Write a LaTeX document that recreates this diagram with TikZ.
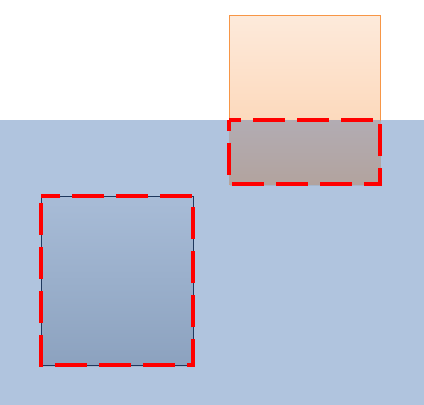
\documentclass[tikz,border=0pt]{standalone}
\usetikzlibrary{shadows}
\begin{document}
\begin{tikzpicture}[x=1pt,y=-1pt]
	% size of each box
	\def\bw{151pt}
	\def\bh{169pt}
	% colours
	\definecolor{bgblue}{RGB}{176,196,222}
	\definecolor{peachtop}{RGB}{253,234,219}
	\definecolor{peachbot}{RGB}{252,207,170}
	\definecolor{peachline}{RGB}{247,150,70}
	\definecolor{mixtop}{RGB}{178,172,179}
	\definecolor{mixbot}{RGB}{178,163,158}
	\definecolor{steeltop}{RGB}{168,188,215}
	\definecolor{steelbot}{RGB}{140,162,191}
	\definecolor{navy}{RGB}{31,56,93}
	% node style definition
	\tikzstyle{box} = [rectangle, inner sep=0pt, outer sep=0pt, anchor=north west];
	\tikzstyle{frame} = [draw=red, line width=4pt, dash pattern=on 32pt off 12pt];
	\tikzstyle{shade} = [drop shadow={opacity=0.2, shadow xshift=0.5pt, shadow yshift=-1.5pt}];
	\useasboundingbox (0,0) rectangle (424,405);
	% blue ground
	\fill[bgblue] (0,120) rectangle (424,405);
	% upper box and the part that sinks in the blue
	\node[box, minimum width=\bw, minimum height=\bh, top color=peachtop, bottom color=peachbot, draw=peachline, line width=0.6pt] (upper) at (229.3,15) {};
	\node[box, shade, minimum width=\bw, minimum height=64pt, top color=mixtop, bottom color=mixbot] (overlap) at (229.3,120) {};
	\draw[frame, dash phase=21.3pt] (overlap.north west) rectangle (overlap.south east);
	% lower box
	\node[box, shade, minimum width=152pt, minimum height=\bh, top color=steeltop, bottom color=steelbot, draw=navy, line width=0.8pt] (lower) at (41.3,196.3) {};
	\draw[frame, dash phase=37pt] (lower.north west) rectangle (lower.south east);
\end{tikzpicture}
\end{document}
